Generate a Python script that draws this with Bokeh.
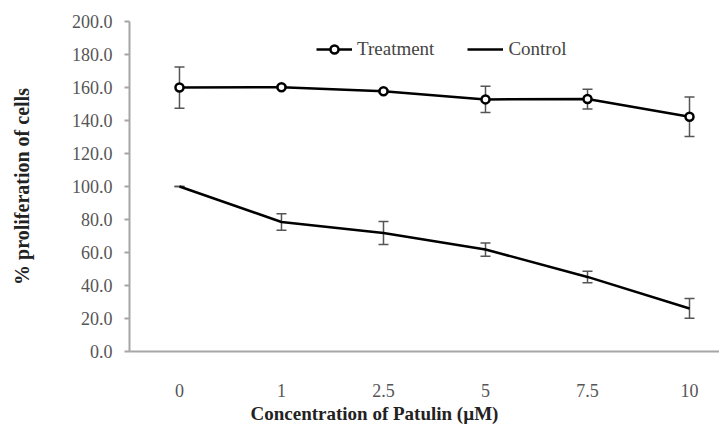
from bokeh.plotting import figure
from bokeh.models import ColumnDataSource, Whisker, Range1d, FixedTicker, PrintfTickFormatter, Title
from bokeh.embed import file_html
from bokeh.resources import INLINE

# ---- data ----
concentrations = ["0", "1", "2.5", "5", "7.5", "10"]
treatment = [160.0, 160.2, 157.7, 152.8, 153.0, 142.3]
treatment_err = [12.5, 1.0, 1.0, 8.0, 6.0, 12.0]
control = [100.0, 78.5, 71.8, 61.8, 45.2, 26.1]
control_err = [0.0, 5.0, 7.0, 4.0, 3.5, 6.0]
y_ticks = [0, 20, 40, 60, 80, 100, 120, 140, 160, 180, 200]
x_title = "Concentration of Patulin (µM)"
y_title = "% proliferation of cells"

idx = list(range(len(concentrations)))
src_t = ColumnDataSource(dict(
    x=idx, y=treatment,
    lo=[v - e for v, e in zip(treatment, treatment_err)],
    hi=[v + e for v, e in zip(treatment, treatment_err)]))
src_c = ColumnDataSource(dict(
    x=idx, y=control,
    lo=[v - e for v, e in zip(control, control_err)],
    hi=[v + e for v, e in zip(control, control_err)]))

FONT = "'Liberation Serif'"
GRAY = "#a6a6a6"

p = figure(width=719, height=424, output_backend="svg", toolbar_location=None,
           x_range=Range1d(-0.49, 5.294), y_range=Range1d(0, 200),
           min_border_left=129, min_border_right=0, min_border_top=21, min_border_bottom=72)
p.outline_line_color = None
p.grid.visible = False
p.background_fill_color = "white"
p.border_fill_color = "white"

# error bars
for src in (src_t, src_c):
    w = Whisker(source=src, base="x", upper="hi", lower="lo",
                line_color="#555555", line_width=1.5)
    for h in (w.upper_head, w.lower_head):
        h.size = 10
        h.line_color = "#555555"
        h.line_width = 1.5
    p.add_layout(w)

p.line("x", "y", source=src_t, line_color="black", line_width=2.5, legend_label="Treatment")
p.scatter("x", "y", source=src_t, marker="circle", size=8, fill_color="white",
          line_color="black", line_width=2.5, legend_label="Treatment")
p.line("x", "y", source=src_c, line_color="black", line_width=2.5, legend_label="Control")

# axes
xa = p.xaxis[0]
xa.ticker = FixedTicker(ticks=idx)
xa.major_label_overrides = {i: s for i, s in zip(idx, concentrations)}
xa.axis_line_color = GRAY
xa.axis_line_width = 2
xa.major_tick_line_color = None
xa.minor_tick_line_color = None
xa.major_label_standoff = 26
xa.major_label_text_font = FONT
xa.major_label_text_font_size = "18px"
xa.major_label_text_color = "#555555"

ya = p.yaxis[0]
ya.ticker = FixedTicker(ticks=y_ticks)
ya.formatter = PrintfTickFormatter(format="%.1f")
ya.axis_line_color = GRAY
ya.axis_line_width = 2
ya.major_tick_line_color = GRAY
ya.major_tick_line_width = 2
ya.major_tick_out = 5
ya.major_tick_in = 0
ya.minor_tick_line_color = None
ya.major_label_standoff = 12
ya.major_label_text_font = FONT
ya.major_label_text_font_size = "18px"
ya.major_label_text_color = "#555555"
ya.axis_label = y_title
ya.axis_label_text_font = FONT
ya.axis_label_text_font_style = "bold"
ya.axis_label_text_font_size = "20px"
ya.axis_label_text_color = "#222222"
ya.axis_label_standoff = 36

# x axis title (off-centre in the original)
xt = Title(text=x_title, align="left", offset=121, standoff=2,
           text_font=FONT, text_font_style="bold", text_font_size="19px",
           text_color="#222222")
p.add_layout(xt, "below")

lg = p.legend[0]
lg.orientation = "horizontal"
lg.location = (187, 291)
lg.padding = 0
lg.margin = 0
lg.spacing = 33
lg.glyph_width = 36
lg.glyph_height = 20
lg.label_standoff = 5
lg.label_text_font = FONT
lg.label_text_font_size = "19px"
lg.label_text_color = "#444444"
lg.background_fill_alpha = 0
lg.border_line_alpha = 0

open("out.html", "w").write(file_html(p, INLINE))
